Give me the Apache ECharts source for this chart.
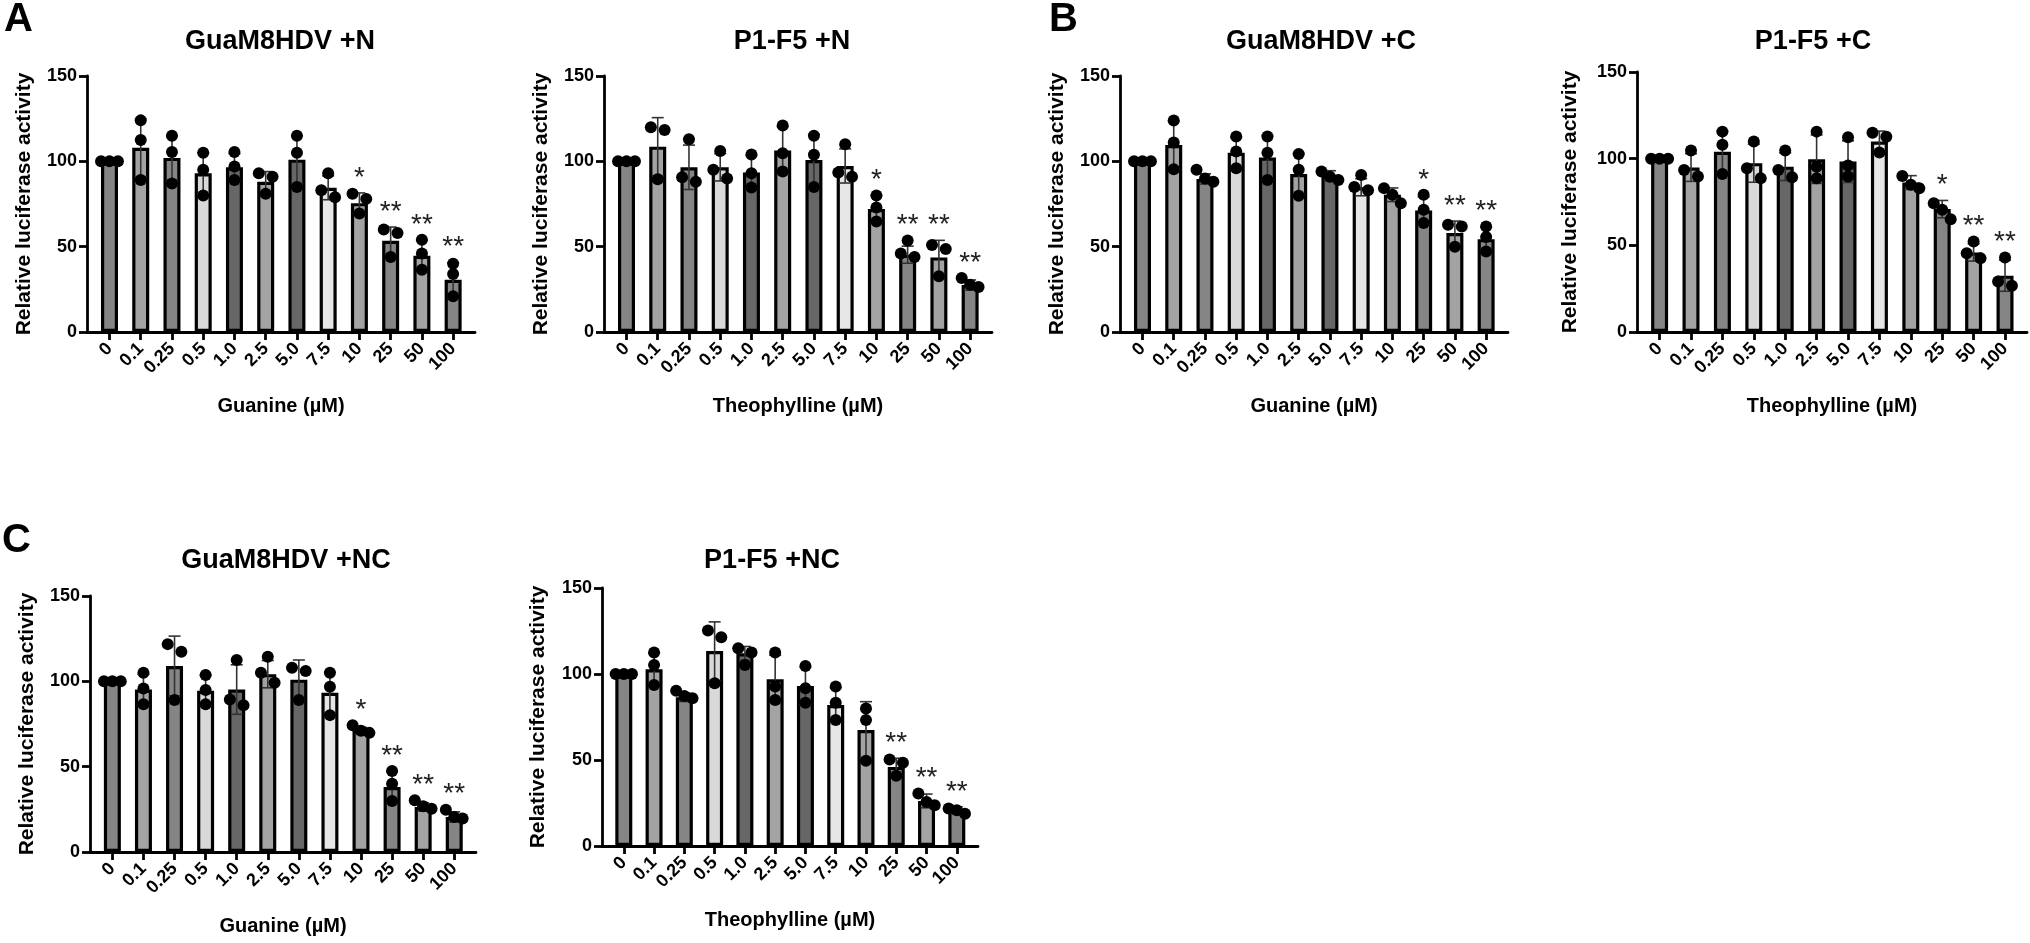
<!DOCTYPE html>
<html>
<head>
<meta charset="utf-8">
<script src="https://cdn.jsdelivr.net/npm/echarts@6/dist/echarts.min.js"></script>
<style>
html, body { margin: 0; padding: 0; background: #fff; }
#main { width: 2030px; height: 943px; }
</style>
</head>
<body>
<div id="main"></div>
<script>
// doses on the x axis (µM)
var doses = ['0', '0.1', '0.25', '0.5', '1.0', '2.5', '5.0', '7.5', '10', '25', '50', '100'];

// A left: GuaM8HDV +N
var guaN_mean = [100, 108, 102, 93, 96.5, 88, 101, 84.5, 75.5, 53.5, 44.7, 30.6];
var guaN_sd = [0, 17, 13, 12, 8, 6, 14, 7, 6, 8, 9, 10];
var guaN_r1 = [100, 124, 115, 105, 105.5, 93, 115, 93, 81, 60, 54, 40];
var guaN_r2 = [100, 112.5, 105.5, 95, 97, 91, 105, 83, 78, 58, 46, 34];
var guaN_r3 = [100, 89, 87, 80, 89, 81, 85, 79, 69.5, 44, 36.5, 21];
var guaN_stars = ['', '', '', '', '', '', '', '', '*', '**', '**', '**'];

// A right: P1-F5 +N
var p1N_mean = [100, 108.6, 96.5, 96.5, 93.4, 106.3, 100.8, 97.3, 72, 45.3, 43.7, 27.5];
var p1N_sd = [0, 17, 13, 8, 10, 14, 15, 10, 8, 5, 10, 3];
var p1N_r1 = [100, 120, 113, 106, 104, 121, 115, 110, 80, 53.6, 51, 31.6];
var p1N_r2 = [100, 118.4, 90.7, 95, 93, 104.7, 103.8, 93.4, 73, 46, 48.6, 27.7];
var p1N_r3 = [100, 89.5, 88, 90, 84.6, 94, 85, 91, 64.8, 44, 32.6, 26.3];
var p1N_stars = ['', '', '', '', '', '', '', '', '*', '**', '**', '**'];

// B left: GuaM8HDV +C
var guaC_mean = [100, 109.6, 89.7, 105, 102.2, 92.6, 91.5, 84.8, 80.4, 71.2, 58, 54.4];
var guaC_sd = [0, 14, 3, 9, 13, 12, 3, 5, 4, 8, 7, 7];
var guaC_r1 = [100, 123.9, 95, 114.5, 114.5, 104.3, 94, 92, 84.3, 80.4, 62.8, 61.8];
var guaC_r2 = [100, 111, 90, 105.7, 105, 95, 91, 85, 80.4, 71.6, 61.8, 55.6];
var guaC_r3 = [100, 95.4, 88, 96, 89, 79.8, 89, 83, 75.5, 63.8, 50, 47.2];
var guaC_stars = ['', '', '', '', '', '', '', '', '', '*', '**', '**'];

// B right: P1-F5 +C
var p1C_mean = [100, 94.9, 104, 97.4, 95.4, 99.7, 98.3, 109.9, 86.2, 70.9, 45.9, 32.5];
var p1C_sd = [0, 8, 12, 11, 8, 14, 12, 6, 4, 5, 5, 9];
var p1C_r1 = [100, 104.7, 115.6, 109.9, 104.7, 115.6, 112.3, 115, 90, 74.3, 52.2, 43];
var p1C_r2 = [100, 93.5, 108, 94.5, 93.5, 95.4, 96, 112.7, 84.9, 70.5, 45.5, 29.2];
var p1C_r3 = [100, 89.7, 91.2, 88.7, 89.3, 88.7, 89.7, 103.5, 83, 65.1, 42.6, 26.7];
var p1C_stars = ['', '', '', '', '', '', '', '', '', '*', '**', '**'];

// C left: GuaM8HDV +NC
var guaNC_mean = [100, 95.2, 109, 94.5, 95.2, 104.2, 101, 93.3, 71, 38.1, 26.4, 20.5];
var guaNC_sd = [0, 9, 17.5, 9, 14.5, 8, 11.5, 12, 2, 9, 2.5, 3];
var guaNC_r1 = [100, 105, 121.8, 103.7, 112.5, 114.4, 108, 105, 74.3, 47.5, 30.3, 24.8];
var guaNC_r2 = [100, 95.8, 117.3, 94.9, 89.4, 105, 106, 96.8, 71, 40, 26.8, 20.5];
var guaNC_r3 = [100, 86.6, 89, 86.6, 86, 99.2, 89, 80.2, 69.8, 29.9, 25.4, 19.6];
var guaNC_stars = ['', '', '', '', '', '', '', '', '*', '**', '**', '**'];

// C right: P1-F5 +NC
var p1NC_mean = [100, 102.8, 86.5, 113.3, 112, 97, 93, 82, 67.4, 46, 26.2, 20.8];
var p1NC_sd = [0, 9.5, 2.5, 17, 4, 14, 11, 10, 16.5, 5, 4, 2];
var p1NC_r1 = [100, 112.5, 90.3, 125.3, 115, 112.5, 104.7, 92.7, 80, 50.3, 30.5, 21.8];
var p1NC_r2 = [100, 105.3, 87.2, 121.4, 112.5, 92.7, 91.7, 83.3, 73.2, 48.4, 25.6, 20.8];
var p1NC_r3 = [100, 93.6, 85.9, 94.6, 105.3, 84.9, 83.3, 73.2, 49.5, 40.8, 23.7, 18.8];
var p1NC_stars = ['', '', '', '', '', '', '', '', '', '**', '**', '**'];

// bar fill per dose
var greys = ['#858585', '#a3a3a3', '#858585', '#d9d9d9', '#676767', '#a3a3a3',
             '#676767', '#e6e6e6', '#a3a3a3', '#858585', '#a3a3a3', '#858585'];
var FF = '"Liberation Sans", Arial, sans-serif';

var panels = [
  { title: 'GuaM8HDV +N', xName: 'Guanine (\u00b5M)', mean: guaN_mean, sd: guaN_sd, reps: [guaN_r1, guaN_r2, guaN_r3], stars: guaN_stars,
    left: 87, top: 76, bottom: 332, width: 388, tx: 280, ty: 28, yGap: 52 },
  { title: 'P1-F5 +N', xName: 'Theophylline (\u00b5M)', mean: p1N_mean, sd: p1N_sd, reps: [p1N_r1, p1N_r2, p1N_r3], stars: p1N_stars,
    left: 604, top: 76, bottom: 332, width: 388, tx: 792, ty: 28, yGap: 52 },
  { title: 'GuaM8HDV +C', xName: 'Guanine (\u00b5M)', mean: guaC_mean, sd: guaC_sd, reps: [guaC_r1, guaC_r2, guaC_r3], stars: guaC_stars,
    left: 1120, top: 76, bottom: 332, width: 388, tx: 1321, ty: 28, yGap: 52 },
  { title: 'P1-F5 +C', xName: 'Theophylline (\u00b5M)', mean: p1C_mean, sd: p1C_sd, reps: [p1C_r1, p1C_r2, p1C_r3], stars: p1C_stars,
    left: 1637, top: 72, bottom: 332, width: 390, tx: 1813, ty: 28, yGap: 56 },
  { title: 'GuaM8HDV +NC', xName: 'Guanine (\u00b5M)', mean: guaNC_mean, sd: guaNC_sd, reps: [guaNC_r1, guaNC_r2, guaNC_r3], stars: guaNC_stars,
    left: 90, top: 596, bottom: 852, width: 386, tx: 286, ty: 547, yGap: 52 },
  { title: 'P1-F5 +NC', xName: 'Theophylline (\u00b5M)', mean: p1NC_mean, sd: p1NC_sd, reps: [p1NC_r1, p1NC_r2, p1NC_r3], stars: p1NC_stars,
    left: 602, top: 588, bottom: 846, width: 376, tx: 772, ty: 547, yGap: 53 }
];

var idx = doses.map(function (d, i) { return i; });

// side-by-side offsets for replicate dots that would overlap
function spread(vals) {
  var order = vals.map(function (v, j) { return j; }).sort(function (a, b) { return vals[b] - vals[a]; });
  var groups = [[order[0]]];
  for (var k = 1; k < order.length; k++) {
    var g = groups[groups.length - 1];
    if (vals[g[g.length - 1]] - vals[order[k]] < 6) g.push(order[k]);
    else groups.push([order[k]]);
  }
  var off = [];
  groups.forEach(function (g) {
    var pos = g.length === 1 ? [0] : g.length === 2 ? [-0.22, 0.22] : [-0.27, 0, 0.27];
    g.forEach(function (j, n) { off[j] = pos[n]; });
  });
  return off;
}

var axisLine = { show: true, onZero: false, lineStyle: { color: '#000', width: 2.8 } };
var axisTick = { show: true, length: 8, lineStyle: { color: '#000', width: 2.8 } };

var option = {
  animation: false,
  backgroundColor: '#fff',
  title: [
    { text: 'A', left: 4, top: 0, padding: 0, textStyle: { fontSize: 40, fontWeight: 'bold', fontFamily: FF, color: '#000' } },
    { text: 'B', left: 1049, top: 0, padding: 0, textStyle: { fontSize: 40, fontWeight: 'bold', fontFamily: FF, color: '#000' } },
    { text: 'C', left: 2, top: 521, padding: 0, textStyle: { fontSize: 40, fontWeight: 'bold', fontFamily: FF, color: '#000' } }
  ],
  grid: [], xAxis: [], yAxis: [], series: []
};

panels.forEach(function (p, k) {
  option.title.push({
    text: p.title, left: p.tx, top: p.ty, textAlign: 'center', padding: 0,
    textStyle: { fontSize: 27, fontWeight: 'bold', fontFamily: FF, color: '#000' }
  });
  option.grid.push({ left: p.left, top: p.top, width: p.width, height: p.bottom - p.top, containLabel: false });
  option.xAxis.push({
    gridIndex: k, type: 'value', min: -0.72, max: 11.7,
    axisLine: axisLine,
    axisTick: { show: true, length: 8, lineStyle: { color: '#000', width: 2.8 }, customValues: idx },
    axisLabel: {
      customValues: idx, rotate: 45, margin: 14,
      formatter: function (v) { return doses[Math.round(v)]; },
      fontSize: 18, fontWeight: 'bold', fontFamily: FF, color: '#000'
    },
    splitLine: { show: false },
    name: p.xName, nameLocation: 'middle', nameGap: 64,
    nameTextStyle: { fontSize: 20, fontWeight: 'bold', fontFamily: FF, color: '#000' }
  });
  option.yAxis.push({
    gridIndex: k, type: 'value', min: 0, max: 150, interval: 50,
    axisLine: axisLine, axisTick: axisTick,
    axisLabel: { margin: 10, fontSize: 18, fontWeight: 'bold', fontFamily: FF, color: '#000' },
    splitLine: { show: false },
    name: 'Relative luciferase activity', nameLocation: 'middle', nameGap: p.yGap,
    nameTextStyle: { fontSize: 21, fontWeight: 'bold', fontFamily: FF, color: '#000' }
  });

  // bars (means)
  option.series.push({
    type: 'bar', xAxisIndex: k, yAxisIndex: k, barWidth: 17, z: 2,
    itemStyle: { borderColor: '#000', borderWidth: 3.2 },
    data: p.mean.map(function (v, i) { return { value: [i, v], itemStyle: { color: greys[i] } }; })
  });

  // SD error bars
  option.series.push({
    type: 'custom', xAxisIndex: k, yAxisIndex: k, z: 3,
    encode: { x: 0, y: [1, 2] },
    data: p.mean.map(function (v, i) { return [i, v - p.sd[i], v + p.sd[i]]; }),
    renderItem: function (params, api) {
      if (api.value(2) - api.value(1) <= 0) return null;
      var hi = api.coord([api.value(0), api.value(2)]);
      var lo = api.coord([api.value(0), api.value(1)]);
      var st = { stroke: '#333', lineWidth: 1.6 };
      return {
        type: 'group', children: [
          { type: 'line', shape: { x1: hi[0], y1: hi[1], x2: lo[0], y2: lo[1] }, style: st },
          { type: 'line', shape: { x1: hi[0] - 6, y1: hi[1], x2: hi[0] + 6, y2: hi[1] }, style: st },
          { type: 'line', shape: { x1: lo[0] - 6, y1: lo[1], x2: lo[0] + 6, y2: lo[1] }, style: st }
        ]
      };
    }
  });

  // replicate dots
  var dots = [];
  p.mean.forEach(function (v, i) {
    var vals = p.reps.map(function (r) { return r[i]; });
    var off = spread(vals);
    vals.forEach(function (y, j) { dots.push([i + off[j], y]); });
  });
  option.series.push({
    type: 'scatter', xAxisIndex: k, yAxisIndex: k, z: 4,
    symbolSize: 12, itemStyle: { color: '#000', opacity: 1 }, data: dots
  });

  // significance stars
  var starData = [];
  p.stars.forEach(function (s, i) {
    if (!s) return;
    var top = Math.max(p.mean[i] + p.sd[i], p.reps[0][i], p.reps[1][i], p.reps[2][i]);
    starData.push([i, top, s]);
  });
  option.series.push({
    type: 'custom', xAxisIndex: k, yAxisIndex: k, z: 5,
    encode: { x: 0, y: 1 },
    data: starData,
    renderItem: function (params, api) {
      var pt = api.coord([api.value(0), api.value(1)]);
      return {
        type: 'text', x: pt[0], y: pt[1] - 15,
        style: {
          text: starData[params.dataIndex][2], align: 'center', verticalAlign: 'middle',
          fontSize: 28, fontFamily: FF, fill: '#222'
        }
      };
    }
  });
});

var chart = echarts.init(document.getElementById('main'));
chart.setOption(option);
</script>
</body>
</html>
